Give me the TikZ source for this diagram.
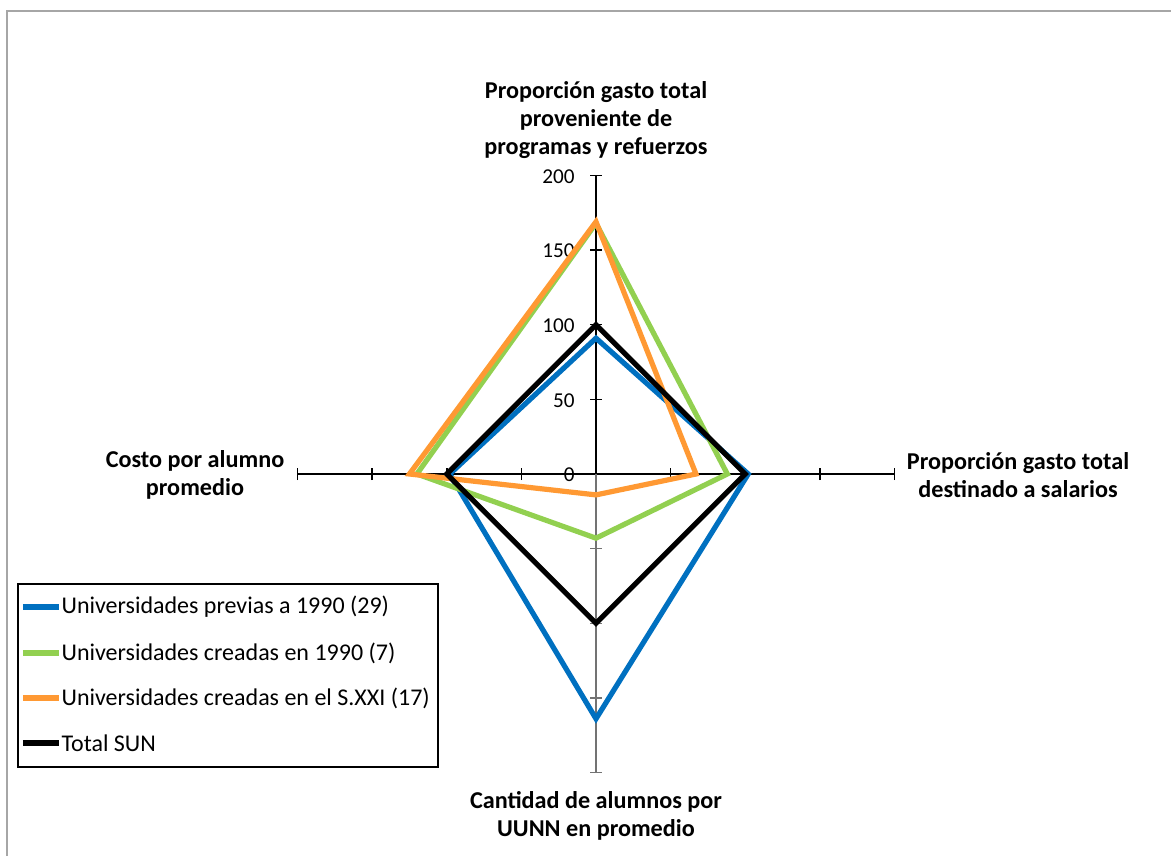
\documentclass[tikz,border=0pt]{standalone}
\usepackage{fontspec}
\setmainfont{Carlito}
\usetikzlibrary{calc}
\definecolor{azul}{HTML}{0070C0}
\definecolor{verde}{HTML}{92D050}
\definecolor{naranja}{HTML}{FF9933}
\definecolor{marco}{HTML}{A6A6A6}
\newcommand{\rr}{1.4925}

\begin{document}
\begin{tikzpicture}[x=0.5pt,y=0.5pt,
    eje/.style={line width=0.75pt},
    serie/.style={line width=2.6pt,line join=miter},
    titulo/.style={font=\bfseries\fontsize{12.1}{14}\selectfont,align=center,inner sep=0pt},
    valor/.style={font=\fontsize{10.6}{12}\selectfont,anchor=east,inner sep=0pt},
    leyenda/.style={font=\fontsize{12}{14}\selectfont,text=black,anchor=west,inner sep=0pt}]
            \useasboundingbox (-596,-382) rectangle (575,474);
            \draw[marco,line width=1pt] (-589,-382) -- (-589,463) -- (575,463);

            % ejes
            \draw[eje] (0,0) to (90:{200*\rr});
            \draw[eje] (0,0) to (0:{200*\rr});
            \draw[eje] (0,0) to (180:{200*\rr});
            \draw[eje,black!55] (0,0) to (270:{200*\rr});
            \foreach \v in {50,100,150,200} {
                \draw[eje] ($(90:{\v*\rr})+(-6,0)$) -- ++(12,0);
                \draw[eje,black!55] ($(270:{\v*\rr})+(-6,0)$) -- ++(12,0);
                \draw[eje] ($(0:{\v*\rr})+(0,-6)$) -- ++(0,12);
                \draw[eje] ($(180:{\v*\rr})+(0,-6)$) -- ++(0,12);
            }
            \foreach \v in {0,50,...,200}
                \node[valor] (v\v) at (-21,{\v*\rr-1}) {\v};

            % series
            \draw[serie,azul] (90:{91*\rr}) -- (0:{102*\rr}) -- (270:{164*\rr}) -- (180:{98*\rr}) -- cycle;
            \draw[serie,verde] (90:{168*\rr}) -- (0:{88*\rr}) -- (270:{43*\rr}) -- (180:{120*\rr}) -- cycle;
            \draw[serie,naranja] (90:{169*\rr}) -- (0:{67*\rr}) -- (270:{14*\rr}) -- (180:{125*\rr}) -- cycle;
            \draw[serie,black] (90:{100*\rr}) -- (0:{100*\rr}) -- (270:{100*\rr}) -- (180:{100*\rr}) -- cycle;

            % titulos de los ejes
            \node[titulo] (programas) at (0,354) {Proporción gasto total\\proveniente de\\programas y refuerzos};
            \node[titulo] (salarios) at (422,-1) {Proporción gasto total\\destinado a salarios};
            \node[titulo] (costo) at (-401,-1) {Costo por alumno\\promedio};
            \node[titulo] (cantidad) at (0,-342) {Cantidad de alumnos por\\UUNN en promedio};

            % leyenda
            \draw[line width=0.6pt] (-578,-110) rectangle (-158,-293);
            \draw[serie,azul] (-573,-133) -- (-537,-133) node[leyenda] (l1) {Universidades previas a 1990 (29)};
            \draw[serie,verde] (-573,-179) -- (-537,-179) node[leyenda] (l2) {Universidades creadas en 1990 (7)};
            \draw[serie,naranja] (-573,-224) -- (-537,-224) node[leyenda] (l3) {Universidades creadas en el S.XXI (17)};
            \draw[serie,black] (-573,-269) -- (-537,-269) node[leyenda] (l4) {Total SUN};
        \end{tikzpicture}
\end{document}
